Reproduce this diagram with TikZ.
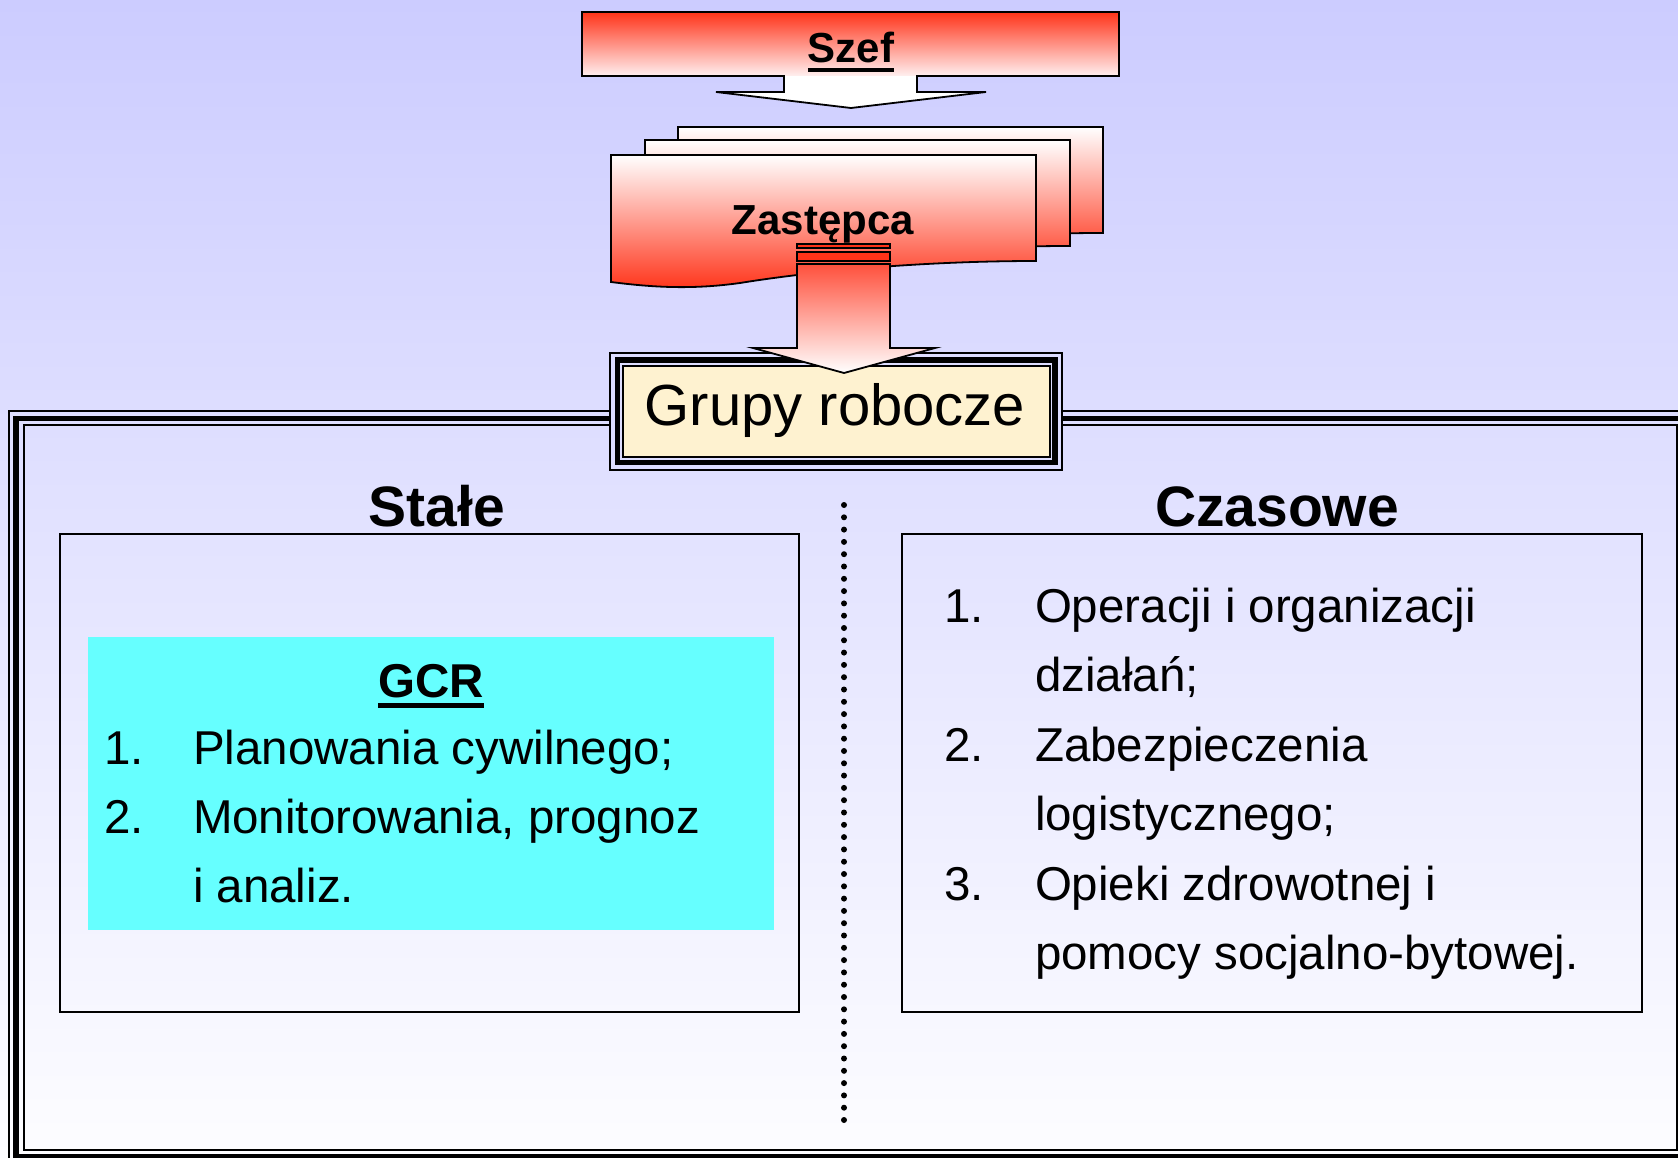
\documentclass[tikz,border=0pt]{standalone}
\usepackage{fontspec}
\setmainfont{Liberation Sans}
\usetikzlibrary{calc}
\definecolor{bgtop}{RGB}{204,204,255}
\definecolor{bgbot}{RGB}{253,253,255}
\definecolor{bgmid}{RGB}{221,221,255}
\definecolor{redc}{RGB}{255,51,25}
\definecolor{stemtop}{RGB}{255,80,60}
\definecolor{cream}{RGB}{254,242,208}
\definecolor{cyanc}{RGB}{102,255,255}
\newsavebox\ulbox
\newcommand\ulword[1]{\sbox\ulbox{#1}\rlap{\rule[-0.225em]{\wd\ulbox}{0.095em}}\usebox\ulbox}
\begin{document}
\begin{tikzpicture}[x=1pt,y=-1pt,
  body/.style={inner sep=0pt, outer sep=0pt, font=\fontsize{47.5}{57}\selectfont, anchor=base west},
  head/.style={inner sep=0pt, outer sep=0pt, font=\fontsize{57}{68}\selectfont\bfseries, anchor=base},
  title/.style={inner sep=0pt, outer sep=0pt, font=\fontsize{42}{50}\selectfont\bfseries, anchor=base},
  boxr/.style={draw, line width=1.5pt, anchor=north west, inner sep=0pt, outer sep=0pt},
  outl/.style={draw=black, line width=1.8pt},
  cardshade/.style={top color=white, bottom color=redc},
]
\useasboundingbox (0,0) rectangle (1678,1158);
\clip (0,0) rectangle (1678,1158);
% background
\fill[top color=bgtop, bottom color=bgbot] (0,0) rectangle (1678,1158);

% big triple frame
\node[boxr, line width=2pt, minimum width=1653.5pt, minimum height=725pt] (frame) at (23.5,425) {};
\draw[line width=5.5pt] ($(frame.north west)+(-7.5,-6.5)$) rectangle ($(frame.south east)+(7.5,7)$);
\draw[line width=2pt] ($(frame.north west)+(-15,-14.5)$) rectangle ($(frame.south east)+(15,15)$);

% inner boxes
\node[boxr, minimum width=739pt, minimum height=478pt] (lbox) at (60,534) {};
\node[boxr, minimum width=740pt, minimum height=478pt] (rbox) at (902,534) {};
\node[anchor=north west, fill=cyanc, inner sep=0pt, outer sep=0pt, minimum width=686pt, minimum height=293pt] (gcrbox) at (88,637) {};

% dotted separator
\coordinate (d1) at (844,505);
\coordinate (d2) at (844,1129);
\draw[line width=6pt, line cap=round, dash pattern=on 0pt off 12.3pt] (d1) -- (d2);

% headings
\node[head] (stale) at (437,526) {Stałe};
\node[head] (czasowe) at (1277,526) {Czasowe};

% left list
\node[inner sep=0pt, outer sep=0pt, font=\fontsize{47.5}{57}\selectfont\bfseries, anchor=base] (gcr) at (431,697) {\ulword{GCR}};
\node[body] (ln1) at (104,764) {1.};
\node[body] (lt1) at (193,764) {Planowania cywilnego;};
\node[body] (ln2) at (104,833) {2.};
\node[body] (lt2) at (193,833) {Monitorowania, prognoz};
\node[body] (lt2b) at (193,902) {i analiz.};

% right list
\node[body] (rn1) at (944,622) {1.};
\node[body] (rt1) at (1035,622) {Operacji i organizacji};
\node[body] (rt1b) at (1035,691.5) {działań;};
\node[body] (rn2) at (944,761) {2.};
\node[body] (rt2) at (1035,761) {Zabezpieczenia};
\node[body] (rt2b) at (1035,830.5) {logistycznego;};
\node[body] (rn3) at (944,900) {3.};
\node[body] (rt3) at (1035,900) {Opieki zdrowotnej i};
\node[body] (rt3b) at (1035,969.5) {pomocy socjalno-bytowej.};

% Grupy robocze box
\fill[bgmid] (610,353) rectangle (1062,469.5);
\draw[line width=2pt] (610,353) rectangle (1062,469.5);
\draw[line width=5.5pt] (617.5,360) rectangle (1055,462.5);
\node[boxr, line width=2pt, fill=cream, minimum width=426.5pt, minimum height=91.5pt] (grupybox) at (623,365.5) {};
\node[inner sep=0pt, outer sep=0pt, font=\fontsize{58}{70}\selectfont, anchor=base] (grupy) at (835,425) {Grupy robocze};

% Szef block arrow
\fill[white] (582,12) -- (1119,12) -- (1119,76) -- (917,76) -- (917,92) -- (986,92) -- (851,108) -- (716,92) -- (784,92) -- (784,76) -- (582,76) -- cycle;
\fill[top color=redc, bottom color=white!94!red] (582,12) rectangle (1119,76);
\draw[outl, line join=miter] (582,12) -- (1119,12) -- (1119,76) -- (917,76) -- (917,92) -- (986,92) -- (851,108) -- (716,92) -- (784,92) -- (784,76) -- (582,76) -- cycle;
\node[title] (szef) at (851,63) {\ulword{Szef}};

% Zastepca stacked documents
\begin{scope}[shift={(67,-28)}]
\path[cardshade, outl] (611,155) -- (1036,155) -- (1036,261) .. controls (930,261) and (820,270) .. (740,283) .. controls (690,290) and (650,287) .. (611,282) -- cycle;
\end{scope}
\begin{scope}[shift={(34,-15)}]
\path[cardshade, outl] (611,155) -- (1036,155) -- (1036,261) .. controls (930,261) and (820,270) .. (740,283) .. controls (690,290) and (650,287) .. (611,282) -- cycle;
\end{scope}
\path[cardshade, outl] (611,155) -- (1036,155) -- (1036,261) .. controls (930,261) and (820,270) .. (740,283) .. controls (690,290) and (650,287) .. (611,282) -- cycle;
\node[title] (zast) at (823,235) {Zastępca};

% lower arrow with bars
\path[fill=redc, draw=black, line width=1.5pt] (797,244) rectangle (890,248);
\path[fill=redc, draw=black, line width=1.5pt] (797,252) rectangle (890,261);
\path[top color=stemtop, bottom color=white, outl, line join=miter] (797,264) -- (890,264) -- (890,348) -- (935,348) -- (844,373) -- (753,348) -- (797,348) -- cycle;
\end{tikzpicture}
\end{document}
